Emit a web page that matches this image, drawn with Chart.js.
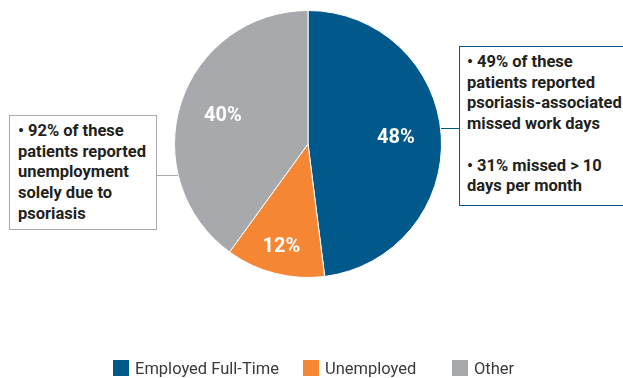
<!DOCTYPE html>
<html>
<head>
<meta charset="utf-8">
<script src="https://cdn.jsdelivr.net/npm/chart.js@4"></script>
<style>
  html, body { margin: 0; padding: 0; background: #fff; }
  #wrap { position: relative; width: 623px; height: 378px; overflow: hidden; font-family: Roboto, "Noto Sans", sans-serif; }
  #pieChart { position: absolute; left: 0; top: 0; }
  .note { position: absolute; background: #fff; box-sizing: border-box; font-weight: bold; font-size: 16.5px; line-height: 20.7px; color: #231f20; white-space: nowrap; }
  .line { position: absolute; height: 1px; }
  #legend { position: absolute; top: 359px; left: 0; width: 623px; font-size: 16.5px; color: #3a3a3a; }
  .legItem { position: absolute; top: 0; white-space: nowrap; }
  .legItem span.box { display: inline-block; width: 16px; height: 16px; vertical-align: top; margin-right: 6px; margin-top: 1px; }
</style>
</head>
<body>
<div id="wrap">
  <canvas id="pieChart" width="623" height="378"></canvas>
  <div class="line" style="left:156px; top:175px; width:22px; background:#a7a9ac;"></div>
  <div class="line" style="left:441px; top:128px; width:20px; background:#00598a;"></div>
  <div class="note" id="noteLeft" style="left:9px; top:115px; width:148px; height:115px; border:1.5px solid #a7a9ac; padding:5px 0 0 8px;"></div>
  <div class="note" id="noteRight" style="left:459px; top:46px; width:170px; height:160px; border:1.5px solid #00598a; padding:5px 0 0 7px;"></div>
  <div id="legend"></div>
</div>
<script>
// Data
const categories = ['Employed Full-Time', 'Unemployed', 'Other'];
const shares = [48, 12, 40];
const sliceColors = ['#00598a', '#f58634', '#a7a9ac'];
const leftNote = ['• 92% of these', 'patients reported', 'unemployment', 'solely due to', 'psoriasis'];
const rightNote = ['• 49% of these', 'patients reported', 'psoriasis-associated', 'missed work days', '', '• 31% missed > 10', 'days per month'];

// where the % labels sit, as a fraction of the radius
const labelRadius = [0.66, 0.8, 0.67];

document.getElementById('noteLeft').innerHTML = leftNote.join('<br>');
document.getElementById('noteRight').innerHTML = rightNote.map(t => t || '&nbsp;').join('<br>');

// Legend
const legendDiv = document.getElementById('legend');
const legendX = [113, 303, 452];
categories.forEach((cat, i) => {
    legendDiv.innerHTML += `<div class="legItem" style="left:${legendX[i]}px"><span class="box" style="background:${sliceColors[i]}"></span>${cat}</div>`;
});

// Percent labels inside slices
const sliceLabels = {
    id: 'sliceLabels',
    afterDatasetsDraw(chart) {
        const ctx = chart.ctx;
        const meta = chart.getDatasetMeta(0);
        ctx.save();
        ctx.fillStyle = '#ffffff';
        ctx.font = 'bold 20px Roboto, "Noto Sans", sans-serif';
        ctx.textAlign = 'center';
        ctx.textBaseline = 'middle';
        meta.data.forEach((arc, i) => {
            const mid = (arc.startAngle + arc.endAngle) / 2;
            const r = arc.outerRadius * labelRadius[i];
            const x = arc.x + Math.cos(mid) * r;
            const y = arc.y + Math.sin(mid) * r;
            ctx.fillText(shares[i] + '%', x, y);
        });
        ctx.restore();
    }
};

const ctx = document.getElementById('pieChart').getContext('2d');
new Chart(ctx, {
    type: 'pie',
    data: {
        labels: categories,
        datasets: [{
            data: shares,
            backgroundColor: sliceColors,
            borderColor: '#ffffff',
            borderWidth: 1
        }]
    },
    options: {
        responsive: false,
        animation: false,
        layout: {
            padding: { left: 174, right: 181, top: 10, bottom: 100 }
        },
        plugins: {
            legend: { display: false },
            tooltip: { enabled: false }
        }
    },
    plugins: [sliceLabels]
});
</script>
</body>
</html>
